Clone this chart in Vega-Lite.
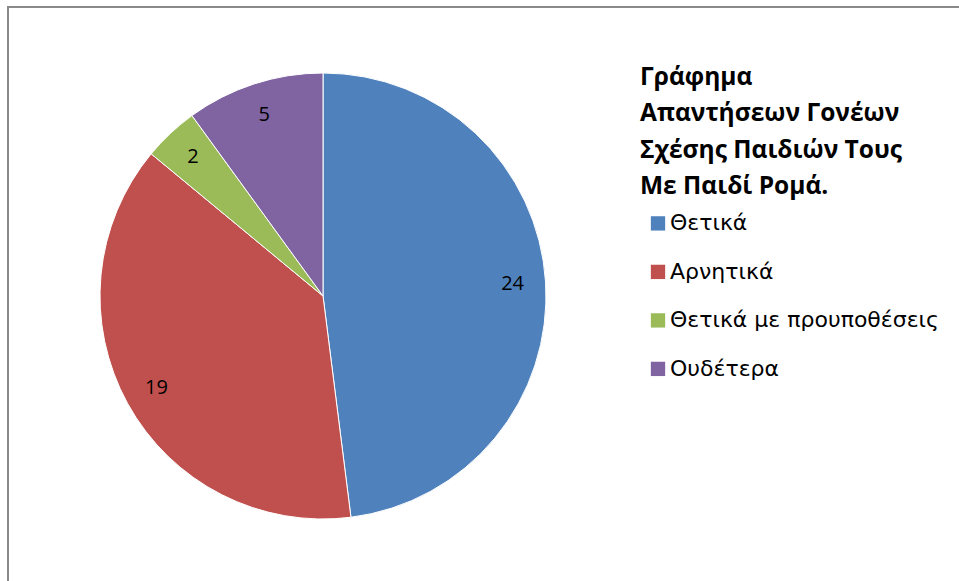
{
  "$schema": "https://vega.github.io/schema/vega-lite/v6.json",
  "autosize": "none",
  "width": 960,
  "height": 580,
  "padding": {"left": 8, "top": 7, "right": 0, "bottom": 0},
  "background": "white",
  "view": {"stroke": "#8a8a8a", "strokeWidth": 2},
  "data": {
    "values": [
      {"category": "Θετικά", "value": 24, "idx": 1},
      {"category": "Αρνητικά", "value": 19, "idx": 2},
      {"category": "Θετικά με προυποθέσεις", "value": 2, "idx": 3},
      {"category": "Ουδέτερα", "value": 5, "idx": 4}
    ]
  },
  "encoding": {
    "theta": {"field": "value", "type": "quantitative", "stack": true},
    "order": {"field": "idx", "type": "quantitative"}
  },
  "layer": [
    {
      "mark": {"type": "arc", "radius": 223, "x": 315, "y": 289, "stroke": "white", "strokeWidth": 1},
      "encoding": {
        "color": {
          "field": "category",
          "type": "nominal",
          "scale": {
            "domain": ["Θετικά", "Αρνητικά", "Θετικά με προυποθέσεις", "Ουδέτερα"],
            "range": ["#4F81BD", "#C0504D", "#9BBB59", "#8064A2"]
          },
          "legend": {
            "orient": "none",
            "legendX": 632,
            "legendY": 59,
            "title": ["Γράφημα", "Απαντήσεων Γονέων", "Σχέσης Παιδιών Τους", "Με Παιδί Ρομά."],
            "titleFont": "Open Sans",
            "titleFontSize": 24.5,
            "titleFontWeight": "bold",
            "titleColor": "black",
            "titleLineHeight": 36.3,
            "titleLimit": 500,
            "titlePadding": 13,
            "symbolType": "square",
            "symbolSize": 205,
            "symbolStrokeWidth": 0,
            "symbolOffset": 7,
            "labelFont": "DejaVu Sans",
            "labelFontSize": 22,
            "labelColor": "black",
            "labelOffset": 1,
            "rowPadding": 26.5,
            "labelLimit": 400
          }
        }
      }
    },
    {
      "mark": {"type": "text", "radius": 190, "x": 315, "y": 289, "font": "Open Sans", "fontSize": 20, "color": "black"},
      "encoding": {
        "text": {"field": "value", "type": "quantitative"}
      }
    }
  ]
}
